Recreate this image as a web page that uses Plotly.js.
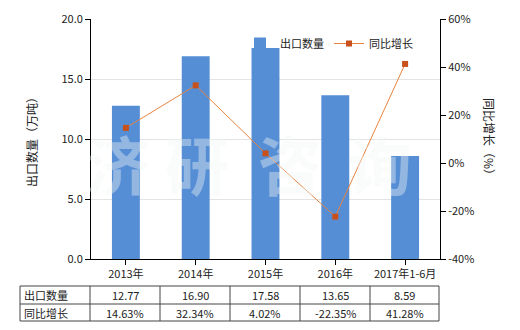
<!DOCTYPE html>
<html>
<head>
<meta charset="utf-8">
<script src="https://cdn.plot.ly/plotly-3.0.1.min.js"></script>
<style>html,body{margin:0;padding:0;background:#fff;}#chart{width:520px;height:330px;}</style>
</head>
<body>
<div id="chart"></div>
<script>
const categories = ['2013年', '2014年', '2015年', '2016年', '2017年1-6月'];
const exportQty = [12.77, 16.90, 17.58, 13.65, 8.59];
const growth = [14.63, 32.34, 4.02, -22.35, 41.28];
const qtyLabels = ['12.77', '16.90', '17.58', '13.65', '8.59'];
const growthLabels = ['14.63%', '32.34%', '4.02%', '-22.35%', '41.28%'];
const seriesNames = ['出口数量', '同比增长'];
const growthTicks = [-40, -20, 0, 20, 40, 60];
const watermark = ['济', '研', '咨', '询'];

const FONT = '"Noto Sans CJK SC", "Microsoft YaHei", sans-serif';
const W = 520, H = 330;
const M = {l: 91, r: 80, t: 19, b: 71, pad: 0, autoexpand: false};
const PW = W - M.l - M.r, PH = H - M.t - M.b;
const px = x => (x - M.l) / PW;
const py = y => (H - M.b - y) / PH;

const traces = [
  {
    type: 'bar', x: categories, y: exportQty, name: seriesNames[0],
    marker: {color: '#558ED5'}, width: 0.4, yaxis: 'y'
  },
  {
    type: 'scatter', mode: 'lines+markers', x: categories, y: growth, name: seriesNames[1],
    line: {color: '#E8843F', width: 1}, marker: {color: '#C8501A', symbol: 'square', size: 6},
    yaxis: 'y2'
  }
];

const annotations = [];
const shapes = [];
const ann = (x, y, text, extra) => Object.assign({xref: 'paper', yref: 'paper', x: px(x), y: py(y),
  xanchor: 'center', yanchor: 'middle', text: text, showarrow: false,
  font: {family: FONT, size: 11, color: '#222'}}, extra || {});

// axis titles
annotations.push(ann(31, 139, '出口数量（万吨）', {textangle: -90, font: {family: FONT, size: 12, color: '#222'}}));
annotations.push(ann(490, 139, '同比增长（%）', {textangle: 90, font: {family: FONT, size: 12, color: '#222'}}));

// watermark
const wmX = [118, 197, 290, 380];
watermark.forEach((c, i) => {
  annotations.push(ann(wmX[i], 162, '<b>' + c + '</b>',
    {font: {family: FONT, size: 64, color: 'rgba(242,246,246,0.4)'}}));
});

// table
const colX = [20, 90, 160, 230, 300, 370, 439];
const rowY = [286, 304, 321];
const lineStyle = {color: '#444', width: 1};
rowY.forEach(y => shapes.push({type: 'line', xref: 'paper', yref: 'paper',
  x0: px(colX[0]), x1: px(colX[colX.length - 1]), y0: py(y), y1: py(y), line: lineStyle}));
colX.forEach(x => shapes.push({type: 'line', xref: 'paper', yref: 'paper',
  x0: px(x), x1: px(x), y0: py(rowY[0]), y1: py(rowY[2]), line: lineStyle}));
const rows = [qtyLabels, growthLabels];
rows.forEach((vals, r) => {
  const yc = (rowY[r] + rowY[r + 1]) / 2;
  annotations.push(ann(colX[0] + 2, yc, seriesNames[r], {xanchor: 'left'}));
  vals.forEach((v, i) => {
    annotations.push(ann((colX[i + 1] + colX[i + 2]) / 2, yc, v));
  });
});

const layout = {
  width: W, height: H, margin: M,
  paper_bgcolor: '#fff', plot_bgcolor: '#fff',
  font: {family: FONT, size: 11, color: '#222'},
  showlegend: true,
  legend: {orientation: 'h', x: px(240), y: py(29), xanchor: 'left', yanchor: 'top',
    bgcolor: 'rgba(0,0,0,0)', font: {family: FONT, size: 11, color: '#222'}},
  xaxis: {type: 'category', showline: true, linecolor: '#000', linewidth: 1, automargin: false,
    ticks: 'outside', ticklen: 5, tickcolor: '#000', showgrid: false, zeroline: false,
    tickfont: {family: FONT, size: 11, color: '#222'}},
  yaxis: {range: [0, 20], dtick: 5, tickformat: '.1f', showline: true, linecolor: '#000', automargin: false,
    ticks: 'outside', ticklen: 5, tickcolor: '#000', showgrid: true, gridcolor: '#E3E3E3',
    zeroline: false, tickfont: {family: FONT, size: 11, color: '#222'}},
  yaxis2: {range: [-40, 60], tickmode: 'array', tickvals: growthTicks,
    ticktext: growthTicks.map(v => v + '%'), overlaying: 'y', side: 'right', automargin: false,
    showline: true, linecolor: '#000', ticks: 'outside', ticklen: 5, tickcolor: '#000',
    showgrid: false, zeroline: false, tickfont: {family: FONT, size: 11, color: '#222'}},
  annotations: annotations,
  shapes: shapes
};

Plotly.newPlot('chart', traces, layout, {staticPlot: true, displayModeBar: false});
</script>
</body>
</html>
